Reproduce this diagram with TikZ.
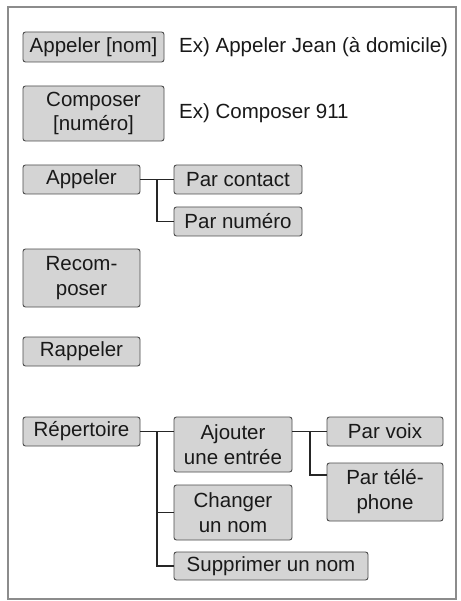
\documentclass[tikz,border=0pt]{standalone}
\usepackage{fontspec}
\setmainfont{Liberation Sans}
\begin{document}
\begin{tikzpicture}[x=1pt,y=-1pt,
  box/.style={draw=black!70,fill=black!17,rounded corners=2.5pt,line width=0.9pt,
    inner sep=0pt,align=center,font=\fontsize{20.5}{25}\selectfont,text=black!90},
  extext/.style={inner sep=0pt,anchor=west,font=\fontsize{20.5}{25}\selectfont,text=black!90},
  link/.style={draw=black!85,line width=1.2pt}]
\path[fill=white,use as bounding box] (0,0) rectangle (460,601);
\draw[line width=2pt,draw=black!45] (8,7) rectangle (456,599);

\node[box,minimum width=141,minimum height=30] (n1) at (93.5,47) {Appeler [nom]};
\node[extext] (ex1) at (179,47) {Ex) Appeler Jean (à domicile)};
\node[box,minimum width=141,minimum height=55] (n2) at (93.5,113.5) {Composer\\[-1pt][numéro]};
\node[extext] (ex2) at (179,113) {Ex) Composer 911};

\node[box,minimum width=117,minimum height=29] (app) at (81.5,179.5) {Appeler};
\node[box,minimum width=128,minimum height=29] (pc) at (238,179.5) {Par contact};
\node[box,minimum width=128,minimum height=29] (pn) at (238,221.5) {Par numéro};

\node[box,minimum width=117,minimum height=58] (rec) at (81.5,278) {Recom-\\poser};
\node[box,minimum width=117,minimum height=29] (rap) at (81.5,351.5) {Rappeler};

\node[box,minimum width=117,minimum height=29] (rep) at (81.5,431.5) {Répertoire};
\node[box,minimum width=118,minimum height=55] (aj) at (233,444.5) {Ajouter\\une entrée};
\node[box,minimum width=118,minimum height=55] (ch) at (233,512.5) {Changer\\un nom};
\node[box,minimum width=194,minimum height=28] (sup) at (271,566) {Supprimer un nom};
\node[box,minimum width=116,minimum height=29] (pv) at (385,431.5) {Par voix};
\node[box,minimum width=116,minimum height=58] (pt) at (385,492) {Par télé-\\phone};

\coordinate (t1) at (157,179.5);
\coordinate (t2) at (157,431.5);
\coordinate (t3) at (310,431.5);
\coordinate (b3) at (310,475);

\draw[link] (app.east) -- (pc.west);
\draw[link] (t1) |- (pn.west);
\draw[link] (rep.east) -- (aj.west |- rep.east);
\draw[link] (t2) |- (ch.west);
\draw[link] (t2) |- (sup.west);
\draw[link] (aj.east |- pv.west) -- (pv.west);
\draw[link] (t3) -- (b3) -- (pt.west |- b3);
\end{tikzpicture}
\end{document}
